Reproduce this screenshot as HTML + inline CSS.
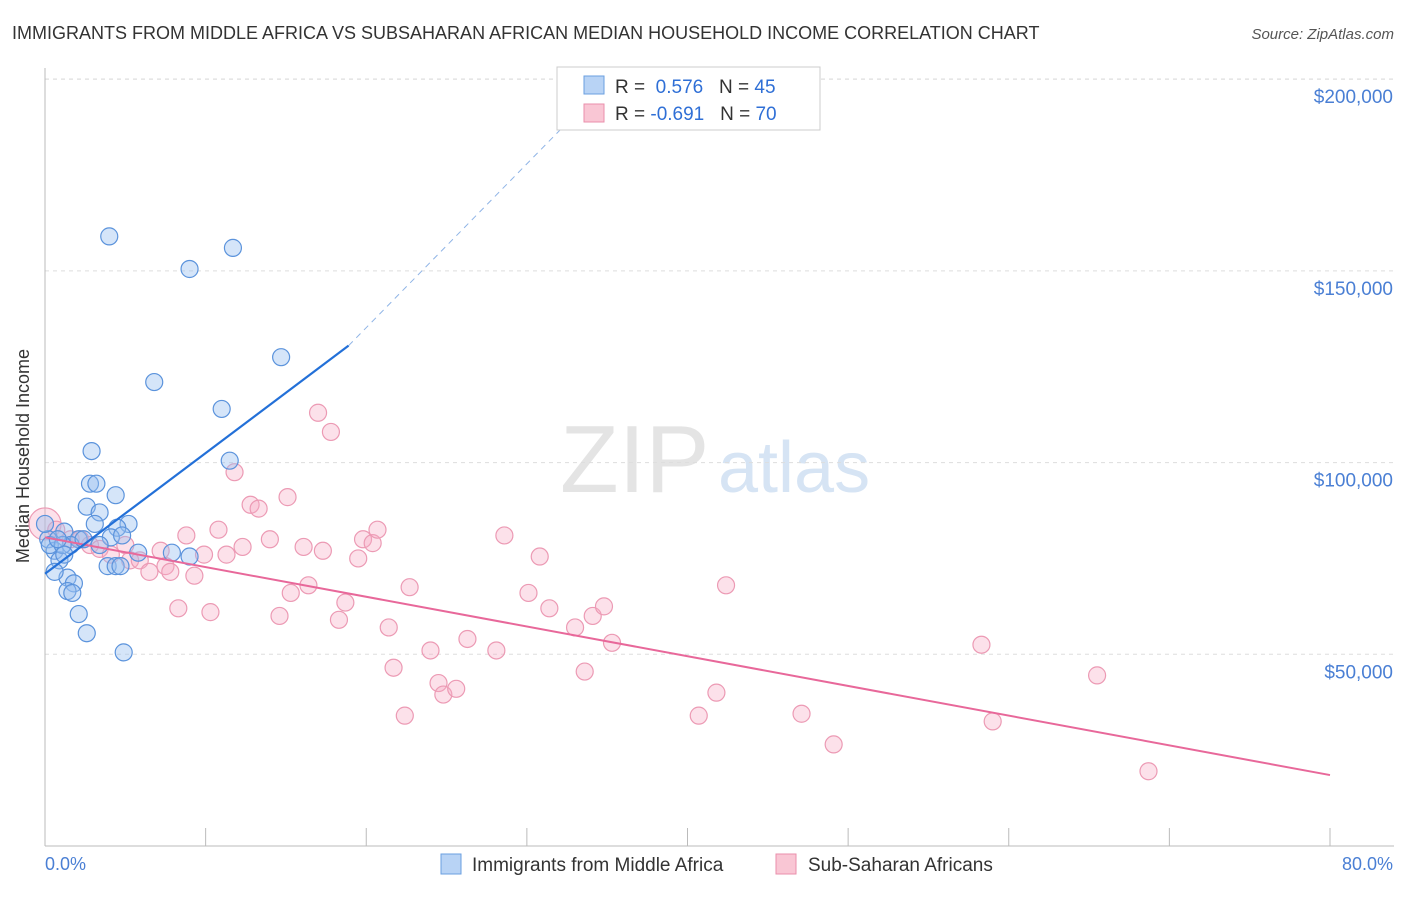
<!DOCTYPE html>
<html><head><meta charset="utf-8"><style>
body{margin:0;background:#fff;font-family:"Liberation Sans",sans-serif}
svg text{font-family:"Liberation Sans",sans-serif}
</style></head><body>
<svg id="c" width="1406" height="892">
<text x="12" y="39" font-size="18" fill="#333">IMMIGRANTS FROM MIDDLE AFRICA VS SUBSAHARAN AFRICAN MEDIAN HOUSEHOLD INCOME CORRELATION CHART</text>
<text x="1394" y="39" font-size="15" fill="#555" font-style="italic" text-anchor="end">Source: ZipAtlas.com</text>
<text x="560" y="492" font-size="96" fill="#e4e4e4" font-family="Liberation Serif">ZIP</text>
<text x="718" y="492" font-size="72" fill="#d6e4f4">atlas</text>
<g id="grid"></g>
<line x1="45" y1="68" x2="45" y2="846" stroke="#bbb"/>
<line x1="45" y1="846" x2="1394" y2="846" stroke="#bbb"/>
<text x="29" y="456" font-size="18" fill="#333" transform="rotate(-90 29 456)" text-anchor="middle">Median Household Income</text>
<text x="45" y="870" font-size="18" fill="#4a7fd4">0.0%</text>
<text x="1393" y="870" font-size="18" fill="#4a7fd4" text-anchor="end">80.0%</text>
<g id="pts"></g>
<g id="lines"></g>
<g>
<rect x="557" y="67" width="263" height="63" fill="#fff" stroke="#ccc"/>
<rect x="584" y="76" width="20" height="18" fill="#b8d3f5" stroke="#6a9fe0"/>
<rect x="584" y="104" width="20" height="18" fill="#f9c6d4" stroke="#ea8fab"/>
<text x="615" y="93" font-size="19" fill="#333">R = <tspan fill="#2f6fd6">&#160;0.576</tspan>&#160;&#160;&#160;N = <tspan fill="#2f6fd6">45</tspan></text>
<text x="615" y="120" font-size="19" fill="#333">R = <tspan fill="#2f6fd6">-0.691</tspan>&#160;&#160;&#160;N = <tspan fill="#2f6fd6">70</tspan></text>
</g>
<g>
<rect x="441" y="854" width="20" height="20" fill="#b8d3f5" stroke="#6a9fe0"/>
<text x="472" y="871" font-size="19" fill="#333">Immigrants from Middle Africa</text>
<rect x="776" y="854" width="20" height="20" fill="#f9c6d4" stroke="#ea8fab"/>
<text x="808" y="871" font-size="19" fill="#333">Sub-Saharan Africans</text>
</g>
</svg>
<script>
const yTicks=[50000,100000,150000,200000];
const yTickLabels=["$50,000","$100,000","$150,000","$200,000"];
const xTicks=[0,10,20,30,40,50,60,70,80];
const blueX=[4.0,9.0,11.7,6.8,14.7,11.0,11.5,2.9,2.8,3.2,4.4,2.6,3.4,5.2,3.1,4.5,4.1,1.2,4.8,2.1,1.6,0.2,0.6,0.9,1.4,1.8,1.4,1.7,2.1,2.6,4.9,5.8,7.9,9.0,3.9,4.4,4.7,0.6,0.3,1.1,2.4,3.4,1.2,0.8,0.0];
const blueY=[159000,150500,156000,121000,127500,114000,100500,103000,94500,94500,91500,88500,87000,84000,84000,83000,80500,82000,81000,80000,78500,80000,77000,74500,70000,68500,66500,66000,60500,55500,50500,76500,76500,75500,73000,73000,73000,71500,78500,78500,80000,78500,76000,80000,84000];
const pinkX=[0.0,0.7,1.6,2.2,2.8,3.4,4.1,5.0,5.3,5.9,6.5,7.2,7.5,7.8,8.3,8.8,9.3,9.9,10.3,10.8,11.3,11.8,12.3,12.8,13.3,14.0,14.6,15.1,15.3,16.1,16.4,17.0,17.3,17.8,18.3,18.7,19.5,19.8,20.4,20.7,21.4,21.7,22.4,22.7,24.0,24.5,24.8,25.6,26.3,28.1,28.6,30.1,30.8,31.4,33.0,33.6,34.1,34.8,35.3,40.7,41.8,42.4,47.1,49.1,58.3,59.0,65.5,68.7];
const pinkY=[84000,82500,80000,80000,78500,77500,76000,78500,74500,74500,71500,77000,73000,71500,62000,81000,70500,76000,61000,82500,76000,97500,78000,89000,88000,80000,60000,91000,66000,78000,68000,113000,77000,108000,59000,63500,75000,80000,79000,82500,57000,46500,34000,67500,51000,42500,39500,41000,54000,51000,81000,66000,75500,62000,57000,45500,60000,62500,53000,34000,40000,68000,34500,26500,52500,32500,44500,19500];
const blueTrend=[[0,71000],[18.9,130500],[35.4,201000]];
const pinkTrend=[[0,80500],[80,18500]];
const X0=45,X1=1330,Y0=846,PX=191.7/50000;
const sx=v=>X0+(v/80)*(X1-X0), sy=v=>Y0-v*PX;
const NS="http://www.w3.org/2000/svg";
const grid=document.getElementById('grid');
yTicks.forEach((t,i)=>{
 const l=document.createElementNS(NS,'line');
 
 
 l.setAttribute('x1',45);l.setAttribute('x2',1394);l.setAttribute('y1',sy(t));l.setAttribute('y2',sy(t));
 l.setAttribute('stroke','#ddd');l.setAttribute('stroke-dasharray','4,4');grid.appendChild(l);
 const tx=document.createElementNS(NS,'text');
 
 
 tx.setAttribute('x',1393);tx.setAttribute('y',sy(t)+24);tx.setAttribute('text-anchor','end');
 tx.setAttribute('font-size','19');tx.setAttribute('fill','#4a7fd4');tx.textContent=yTickLabels[i];grid.appendChild(tx);
});
const tg=document.createElementNS(NS,'line');


tg.setAttribute('x1',45);tg.setAttribute('x2',1394);tg.setAttribute('y1',79);tg.setAttribute('y2',79);tg.setAttribute('stroke','#ddd');tg.setAttribute('stroke-dasharray','4,4');grid.appendChild(tg);
xTicks.forEach(t=>{
 const l=document.createElementNS(NS,'line');
 
 
 l.setAttribute('x1',sx(t));l.setAttribute('x2',sx(t));l.setAttribute('y1',828);l.setAttribute('y2',846);
 l.setAttribute('stroke','#bbb');grid.appendChild(l);
});
const pts=document.getElementById('pts');
function dots(xs,ys,fill,stroke,name){
 xs.forEach((x,i)=>{
  const c=document.createElementNS(NS,'circle');
  
  
  c.setAttribute('cx',sx(x));c.setAttribute('cy',sy(ys[i]));c.setAttribute('r',i===0&&name==='pink-point'?16:8.5);
  c.setAttribute('fill',fill);c.setAttribute('stroke',stroke);c.setAttribute('stroke-width','1.2');pts.appendChild(c);
 });
}
dots(pinkX,pinkY,'rgba(247,170,195,0.35)','#ec9ab4','pink-point');
dots(blueX,blueY,'rgba(150,190,240,0.4)','#5b93dc','blue-point');
const lines=document.getElementById('lines');
function seg(a,b,col,w,dash,name){
 const l=document.createElementNS(NS,'line');
 
 
 l.setAttribute('x1',sx(a[0]));l.setAttribute('y1',sy(a[1]));l.setAttribute('x2',sx(b[0]));l.setAttribute('y2',sy(b[1]));
 l.setAttribute('stroke',col);l.setAttribute('stroke-width',w);if(dash)l.setAttribute('stroke-dasharray',dash);lines.appendChild(l);
}
seg(pinkTrend[0],pinkTrend[1],'#e8689a',2,null,'pink-trend-line');
seg(blueTrend[0],blueTrend[1],'#2370d8',2.2,null,'blue-trend-line');
seg(blueTrend[1],blueTrend[2],'#8fb4e6',1,'6,5','blue-trend-extension');
</script>
</body></html>
